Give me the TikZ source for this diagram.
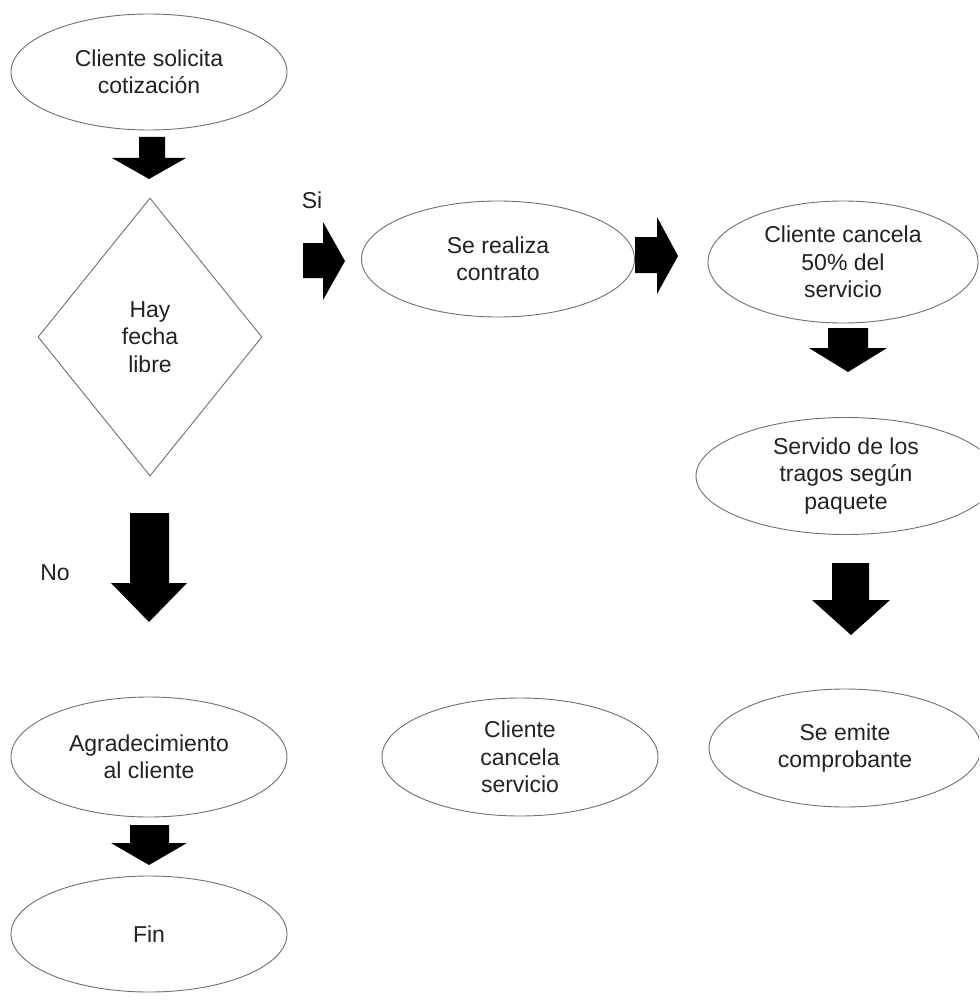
\documentclass[tikz,border=0pt]{standalone}
\usepackage{fontspec}
\setmainfont{Liberation Sans}
\usetikzlibrary{shapes.geometric}
\definecolor{edge}{HTML}{707070}
\definecolor{txt}{HTML}{222222}
\begin{document}
\begin{tikzpicture}[x=1pt,y=-1pt,
  every node/.style={font=\fontsize{23}{27.5}\selectfont, text=txt},
  proc/.style={ellipse, draw=edge, line width=0.9pt, fill=white, inner sep=0pt, align=center, minimum width=276pt, minimum height=116pt},
  dec/.style={diamond, draw=edge, line width=0.9pt, inner sep=0pt, align=center, minimum width=224pt, minimum height=278pt},
  blk/.style={fill=black, draw=none},
  lbl/.style={inner sep=0pt}]
\useasboundingbox (0,0) rectangle (979,1003);
\clip (0,0) rectangle (979,1003);
\fill[white] (0,0) rectangle (979,1003);
% nodes
\node[proc] (e1) at (149,72) {Cliente solicita\\cotización};
\node[dec] (d) at (150,337) {Hay\\fecha\\libre};
\node[proc, minimum width=273pt, minimum height=116pt] (e2) at (498,259) {Se realiza\\contrato};
\node[proc, minimum width=270pt, minimum height=122pt] (e3) at (843,262) {Cliente cancela\\50\% del\\servicio};
\node[proc, minimum width=300pt, minimum height=117pt] (e4) at (846,476) {Servido de los\\tragos según\\paquete};
\node[proc, minimum width=272pt, minimum height=118pt] (e5) at (845,748) {Se emite\\comprobante};
\node[proc, minimum height=118pt] (e6) at (520,757) {Cliente\\cancela\\servicio};
\node[proc, minimum height=120pt] (e7) at (149,757) {Agradecimiento\\al cliente};
\node[proc] (e8) at (149,934) {Fin};
\node[lbl] (si) at (312,200) {Si};
\node[lbl] (no) at (55,573) {No};
% block arrows
\fill[blk] (139,137) -- (165,137) -- (165,158) -- (186,158) -- (149,179) -- (112,158) -- (139,158) -- cycle;
\fill[blk] (130,513) -- (169,513) -- (169,583) -- (187,583) -- (149,622) -- (111,583) -- (130,583) -- cycle;
\fill[blk] (303,243) -- (323,243) -- (323,222) -- (345,261) -- (323,300) -- (323,278) -- (303,278) -- cycle;
\fill[blk] (635,237) -- (657,237) -- (657,217) -- (678,256) -- (657,294) -- (657,273) -- (635,273) -- cycle;
\fill[blk] (828,328) -- (868,328) -- (868,348) -- (887,348) -- (848,372) -- (809,348) -- (828,348) -- cycle;
\fill[blk] (832,563) -- (869,563) -- (869,600) -- (890,600) -- (851,635) -- (812,600) -- (832,600) -- cycle;
\fill[blk] (130,825) -- (169,825) -- (169,843) -- (187,843) -- (149,865) -- (111,843) -- (130,843) -- cycle;
\end{tikzpicture}
\end{document}
